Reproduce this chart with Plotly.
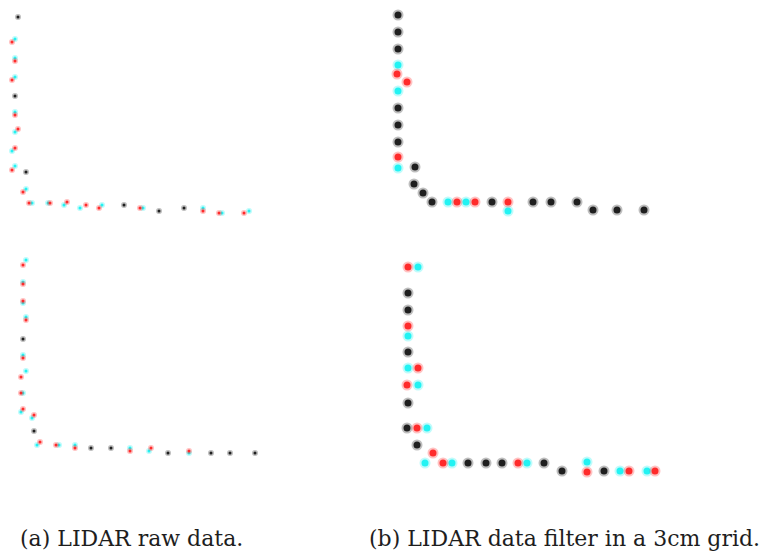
import plotly.graph_objects as go

W, H = 769, 556

# ---- (a) raw LIDAR scans, upper view (x right, y up, ~1 unit per px) ----
a1_red_x = [12, 15, 12, 15, 18, 15, 12, 23, 29, 50, 67, 86, 99, 140, 203, 219, 244]
a1_red_y = [178, 159, 140, 105, 91, 72, 50, 28, 17, 17, 18, 15, 12, 12, 9, 7, 7]
a1_cyan_x = [15, 15, 15, 15, 15, 12, 15, 26, 32, 48, 64, 80, 102, 143, 203, 222, 249]
a1_cyan_y = [181, 162, 143, 108, 88, 69, 54, 31, 17, 17, 15, 12, 15, 12, 12, 7, 9]
a1_both_x = [18, 15, 26, 124, 159, 184]
a1_both_y = [203, 124, 48, 15, 9, 12]

# ---- (a) raw LIDAR scans, lower view ----
a2_red_x = [23, 23, 23, 26, 23, 21, 21, 23, 34, 40, 56, 75, 130, 151, 189]
a2_red_y = [205, 186, 169, 150, 112, 93, 77, 61, 55, 28, 25, 22, 19, 22, 19]
a2_cyan_x = [26, 23, 23, 26, 23, 26, 23, 21, 32, 37, 59, 75, 130, 149, 189]
a2_cyan_y = [210, 188, 167, 153, 115, 99, 77, 58, 52, 25, 25, 25, 22, 19, 17]
a2_both_x = [23, 34, 91, 111, 168, 211, 230, 255]
a2_both_y = [131, 39, 22, 22, 17, 17, 17, 17]

# ---- (b) scans filtered on a 3 cm grid, upper view ----
b1_red_x = [12, 22, 13, 72, 90, 123]
b1_red_y = [146, 138, 63, 18, 18, 18]
b1_cyan_x = [13, 13, 13, 63, 81, 123]
b1_cyan_y = [155, 129, 52, 18, 18, 9]
b1_both_x = [13, 13, 13, 13, 13, 13, 30, 29, 38, 47, 107, 148, 166, 192, 208, 232, 259]
b1_both_y = [205, 188, 171, 112, 95, 78, 53, 36, 27, 18, 18, 18, 18, 18, 10, 10, 10]

# ---- (b) scans filtered on a 3 cm grid, lower view ----
b2_red_x = [23, 23, 33, 22, 32, 48, 58, 133, 202, 244, 270]
b2_red_y = [213, 154, 112, 95, 52, 27, 17, 17, 8, 9, 9]
b2_cyan_x = [33, 23, 23, 33, 42, 40, 67, 142, 202, 235, 262]
b2_cyan_y = [213, 144, 112, 95, 52, 17, 17, 17, 18, 9, 9]
b2_both_x = [23, 23, 23, 23, 22, 32, 83, 101, 117, 159, 177, 219]
b2_both_y = [187, 170, 128, 77, 52, 35, 17, 17, 17, 17, 9, 9]

captions = ["(a) LIDAR raw data.", "(b) LIDAR data filter in a 3cm grid."]

RED, CYAN, BLACK = "#ff2323", "#19f2f2", "#161616"

# panel boxes in pixels: (left, top, right, bottom) and data origin offsets
panels = [
    ("a1", (0, 0, 280, 235), 0, -15, 3, 6,
     (a1_red_x, a1_red_y, a1_cyan_x, a1_cyan_y, a1_both_x, a1_both_y)),
    ("a2", (0, 240, 280, 480), 0, -10, 3, 6,
     (a2_red_x, a2_red_y, a2_cyan_x, a2_cyan_y, a2_both_x, a2_both_y)),
    ("b1", (385, 0, 685, 235), 0, -15, 7, 11,
     (b1_red_x, b1_red_y, b1_cyan_x, b1_cyan_y, b1_both_x, b1_both_y)),
    ("b2", (385, 240, 685, 490), 0, -10, 7, 11,
     (b2_red_x, b2_red_y, b2_cyan_x, b2_cyan_y, b2_both_x, b2_both_y)),
]

fig = go.Figure()
layout = {}
for i, (name, (l, t, r, b), x0, y0, core, halo, data) in enumerate(panels, start=1):
    rx, ry, cx, cy, kx, ky = data
    xa = "x" if i == 1 else f"x{i}"
    ya = "y" if i == 1 else f"y{i}"
    for xs, ys, col in ((cx, cy, CYAN), (rx, ry, RED), (kx, ky, BLACK)):
        # soft halo under each point, then the solid core
        fig.add_trace(go.Scatter(
            x=xs, y=ys, mode="markers", xaxis=xa, yaxis=ya,
            marker=dict(size=halo, color=col, opacity=0.28, line=dict(width=0)),
            hoverinfo="skip", showlegend=False))
        fig.add_trace(go.Scatter(
            x=xs, y=ys, mode="markers", xaxis=xa, yaxis=ya,
            marker=dict(size=core, color=col, opacity=0.95, line=dict(width=0)),
            showlegend=False))
    ax = dict(visible=False, showgrid=False, zeroline=False,
              domain=[l / W, r / W], range=[x0, x0 + (r - l)], fixedrange=True)
    ay = dict(visible=False, showgrid=False, zeroline=False,
              domain=[(H - b) / H, (H - t) / H], range=[y0, y0 + (b - t)],
              fixedrange=True)
    ax["anchor"] = ya
    ay["anchor"] = xa
    layout["xaxis" if i == 1 else f"xaxis{i}"] = ax
    layout["yaxis" if i == 1 else f"yaxis{i}"] = ay

fig.update_layout(**layout)
cap_font = dict(family="DejaVu Serif", size=22, color="#1e1e1e")
fig.update_layout(
    width=W, height=H, margin=dict(l=0, r=0, t=0, b=0),
    paper_bgcolor="white", plot_bgcolor="white",
    annotations=[
        dict(text=captions[0], x=131 / W, y=(H - 538) / H, xref="paper", yref="paper",
             showarrow=False, xanchor="center", yanchor="middle", font=cap_font),
        dict(text=captions[1], x=564 / W, y=(H - 538) / H, xref="paper", yref="paper",
             showarrow=False, xanchor="center", yanchor="middle", font=cap_font),
    ],
)

fig.write_html("out.html")
